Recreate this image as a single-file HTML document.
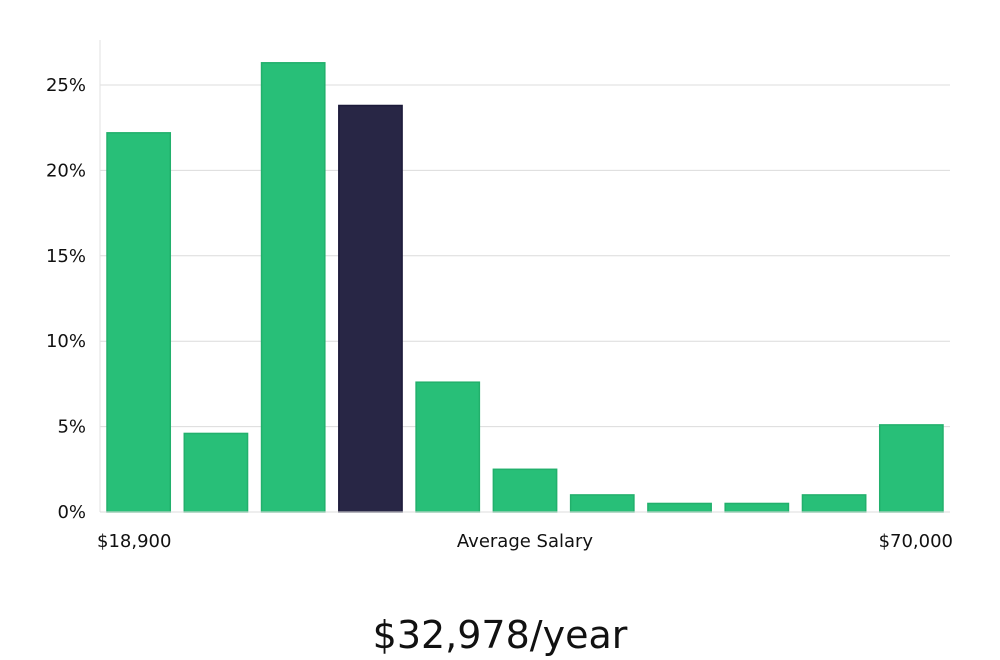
<!DOCTYPE html>
<html><head><meta charset="utf-8"><style>
html,body{margin:0;padding:0;background:#fff;width:1000px;height:660px;overflow:hidden}
text{font-family:"DejaVu Sans","Liberation Sans",sans-serif}
</style></head><body>
<svg id="chart" width="1000" height="660" xmlns="http://www.w3.org/2000/svg"></svg>
<script>
const categories=["b1","b2","b3","b4","b5","b6","b7","b8","b9","b10","b11"];
const values=[22.2,4.6,26.3,23.8,7.6,2.5,1.0,0.5,0.5,1.0,5.1];
const highlightIndex=3;
const yTicks=[0,5,10,15,20,25];
const xLabels=["$18,900","Average Salary","$70,000"];
const svg=document.getElementById('chart');
const NS='http://www.w3.org/2000/svg';
const x0=100,x1=950,y0=512,pxPer=85.4/5;
const band=(x1-x0)/categories.length;
function y(v){return y0-v*pxPer;}
function xb(i){return x0+i*band;}
function mk(t,a){const e=document.createElementNS(NS,t);for(const k in a)e.setAttribute(k,a[k]);svg.appendChild(e);return e;}
yTicks.forEach(t=>{
 if(t>0){const g=mk('line',{x1:x0,x2:x1,y1:y(t),y2:y(t),stroke:'#dcdcdc','stroke-width':1});
 
 }
 const l=mk('text',{x:86,y:y(t)+6,'text-anchor':'end','font-size':18,fill:'#111'});
 
 
 l.textContent=t+'%';
});
const ax=mk('line',{x1:x0,x2:x0,y1:40,y2:y0,stroke:'#e2e2e2','stroke-width':1});


values.forEach((v,i)=>{
 const hl=i===highlightIndex;
 const r=mk('rect',{x:xb(i)+7,y:y(v),width:band-14,height:y0-y(v),fill:hl?'#282645':'#28bf78',stroke:hl?'#1c1a3a':'#22b06c','stroke-width':1.5});
 
 
});
const xa=mk('line',{x1:x0,x2:x1,y1:y0,y2:y0,stroke:'#dcdcdc','stroke-width':1});


[[97,'start'],[525,'middle'],[953,'end']].forEach((p,i)=>{
 const t=mk('text',{x:p[0],y:547,'text-anchor':p[1],'font-size':18,fill:'#111'});
 
 
 t.textContent=xLabels[i];
});
const s=mk('text',{x:500,y:648,'text-anchor':'middle','font-size':38,fill:'#111','font-family':'"Liberation Sans Narrow","Liberation Sans",sans-serif'});


s.textContent='$32,978/year';
</script>
</body></html>
